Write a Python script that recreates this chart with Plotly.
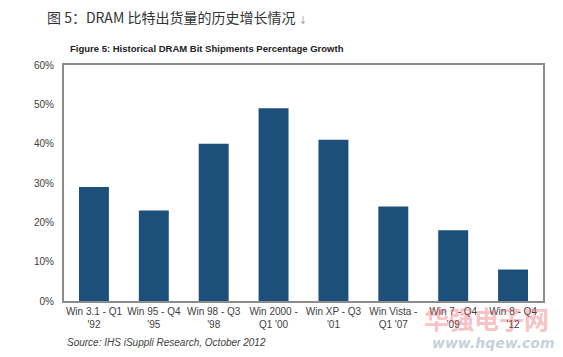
import plotly.graph_objects as go

categories = ["Win 3.1 - Q1<br>'92", "Win 95 - Q4<br>'95", "Win 98 - Q3<br>'98",
              "Win 2000 -<br>Q1 '00", "Win XP - Q3<br>'01", "Win Vista -<br>Q1 '07",
              "Win 7 - Q4<br>'09", "Win 8 - Q4<br>'12"]
growth = [29, 23, 40, 49, 41, 24, 18, 8]
y_ticks = [0, 10, 20, 30, 40, 50, 60]
y_labels = ["0%", "10%", "20%", "30%", "40%", "50%", "60%"]

# page has an 8px body margin; compensate
OFF = 8
W, H = 563 - OFF, 357 - OFF
l, r, t, b = 64 - OFF, 20, 65 - OFF, 56
pw, ph = W - l - r, H - t - b


def px(x, y):
    """reference pixel coords (from top-left of window) -> paper coords"""
    return (x - OFF - l) / pw, (H - (y - OFF) - b) / ph


def ann(text, x, y, font, xanchor="left"):
    ax, ay = px(x, y)
    return dict(text=text, x=ax, y=ay, xref="paper", yref="paper", showarrow=False,
                xanchor=xanchor, yanchor="middle", font=font)


fig = go.Figure(go.Bar(x=categories, y=growth, marker=dict(color="#1c4f7a", line=dict(width=0)),
                       hoverinfo="skip"))

fig.update_layout(
    width=W, height=H,
    margin=dict(l=l, r=r, t=t, b=b),
    paper_bgcolor="white", plot_bgcolor="white",
    bargap=0.5, showlegend=False,
    font=dict(family="Liberation Sans, Arial, sans-serif", size=10, color="#404040"),
    xaxis=dict(showgrid=False, showline=True, linecolor="#8c8c8c", linewidth=2, mirror=True,
               ticks="", tickfont=dict(size=10, color="#404040")),
    yaxis=dict(range=[0, 60], tickvals=y_ticks, ticktext=y_labels, showgrid=False,
               showline=True, linecolor="#8c8c8c", linewidth=2, mirror=True, ticks="",
               zeroline=False, ticklabelstandoff=6, tickfont=dict(size=10, color="#404040")),
    annotations=[
        ann("图 5：DRAM 比特出货量的历史增长情况 <span style='font-size:9px;color:#888'>↓</span>", 45, 17,
            dict(family="Noto Sans CJK SC, sans-serif", size=14, color="#333333")),
        ann("<b>Figure 5: Historical DRAM Bit Shipments Percentage Growth</b>", 68, 49,
            dict(family="Liberation Sans, Arial, sans-serif", size=9.5, color="#222222")),
        ann("<i>Source: IHS iSuppli Research, October 2012</i>", 65, 342,
            dict(family="Liberation Sans, Arial, sans-serif", size=10, color="#404040")),
        ann("<b>华强电子网</b>", 486, 318,
            dict(family="Noto Sans CJK SC, sans-serif", size=25, color="rgba(235,95,105,0.4)"), "center"),
        ann("<b><i>www.hqew.com</i></b>", 493, 343,
            dict(family="DejaVu Sans, sans-serif", size=14, color="rgba(110,130,165,0.4)"), "center"),
    ],
)
fig.write_html("out.html")
